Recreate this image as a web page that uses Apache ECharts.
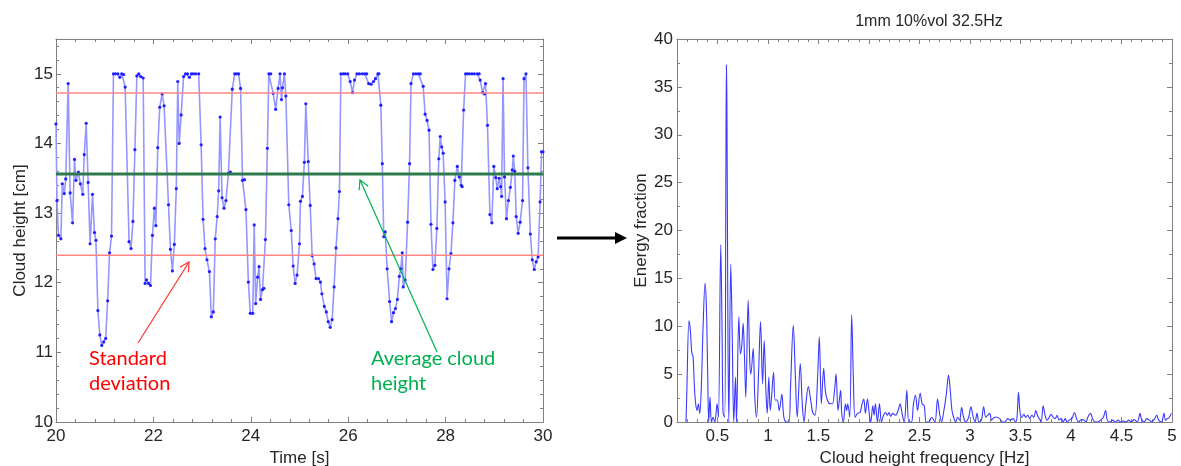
<!DOCTYPE html>
<html>
<head>
<meta charset="utf-8">
<script src="https://cdn.jsdelivr.net/npm/echarts@6/dist/echarts.min.js"></script>
<style>
  html, body { margin: 0; padding: 0; background: #ffffff; }
  #chart { width: 1181px; height: 466px; }
</style>
</head>
<body>
<div id="chart"></div>
<script>
// Cloud height time trace (s, cm)
const timeSec = [
  20.00,20.02,20.05,20.10,20.13,20.17,20.20,20.25,20.29,20.34,
  20.38,20.41,20.46,20.50,20.55,20.58,20.62,20.66,20.70,20.75,
  20.79,20.82,20.86,20.90,20.94,20.98,21.02,21.06,21.10,21.14,
  21.18,21.22,21.27,21.31,21.35,21.39,21.42,21.50,21.54,21.58,
  21.62,21.66,21.70,21.74,21.79,21.83,21.86,21.90,21.94,21.98,
  22.02,22.05,22.09,22.13,22.18,22.22,22.31,22.35,22.39,22.43,
  22.47,22.50,22.53,22.57,22.62,22.66,22.70,22.74,22.78,22.82,
  22.87,22.93,22.98,23.02,23.06,23.10,23.15,23.19,23.23,23.27,
  23.31,23.34,23.37,23.41,23.45,23.49,23.54,23.58,23.62,23.67,
  23.71,23.75,23.79,23.83,23.87,23.90,23.95,23.99,24.04,24.07,
  24.10,24.14,24.17,24.20,24.24,24.27,24.30,24.34,24.37,24.41,
  24.46,24.51,24.56,24.60,24.63,24.65,24.69,24.72,24.78,24.83,
  24.87,24.91,24.95,25.00,25.02,25.06,25.10,25.13,25.18,25.22,
  25.26,25.30,25.34,25.39,25.43,25.46,25.51,25.55,25.59,25.63,
  25.67,25.71,25.75,25.79,25.82,25.85,25.90,25.94,25.99,26.04,
  26.09,26.13,26.18,26.23,26.29,26.34,26.38,26.42,26.47,26.52,
  26.56,26.61,26.63,26.67,26.70,26.73,26.76,26.80,26.85,26.89,
  26.93,26.97,27.01,27.05,27.08,27.11,27.13,27.17,27.22,27.26,
  27.29,27.34,27.39,27.44,27.48,27.54,27.58,27.62,27.66,27.70,
  27.74,27.78,27.82,27.86,27.89,27.92,27.95,27.99,28.03,28.07,
  28.11,28.15,28.19,28.24,28.28,28.32,28.34,28.37,28.41,28.45,
  28.49,28.54,28.59,28.65,28.69,28.71,28.76,28.80,28.82,28.86,
  28.91,28.95,28.99,29.03,29.06,29.10,29.13,29.15,29.18,29.21,
  29.25,29.29,29.33,29.37,29.39,29.42,29.45,29.49,29.53,29.58,
  29.61,29.65,29.69,29.74,29.78,29.82,29.86,29.90,29.94,29.97,
  30.00
];
const cloudHeight = [
  14.28,13.18,12.68,12.63,13.42,13.28,13.49,14.86,13.29,12.86,
  13.77,13.47,13.59,13.42,13.27,13.84,14.29,13.44,12.56,13.27,
  12.72,12.61,11.60,11.25,11.10,11.15,11.20,11.74,12.43,12.67,
  15.00,15.00,15.00,14.95,15.00,14.99,14.81,12.59,12.49,12.88,
  13.91,14.97,15.00,14.96,14.94,11.99,12.04,11.99,11.96,12.68,
  13.07,12.82,13.94,14.52,14.71,14.54,13.12,12.48,12.17,12.55,
  13.35,14.89,14.00,14.41,14.96,15.00,15.00,14.95,15.00,15.00,
  15.00,15.00,13.98,12.91,12.49,12.33,12.16,11.51,11.58,12.63,
  12.95,13.32,14.38,13.22,13.07,13.18,13.57,13.59,14.78,15.00,
  15.00,15.00,14.79,13.47,13.48,13.05,12.01,11.56,11.56,12.83,
  11.70,12.08,12.23,11.76,11.90,11.92,12.62,13.93,15.00,15.00,
  14.72,14.49,14.79,15.00,14.63,14.80,15.00,14.68,13.12,12.75,
  12.24,11.99,12.11,12.56,13.17,13.24,13.73,14.57,13.74,13.11,
  12.39,12.27,12.06,12.06,12.01,11.84,11.66,11.58,11.44,11.36,
  11.47,11.94,12.50,12.92,13.31,15.00,15.00,15.00,15.00,14.89,
  14.73,14.91,15.00,15.00,15.00,15.00,15.00,14.86,14.85,14.89,
  14.93,15.00,15.00,14.55,13.71,12.66,12.73,12.20,11.73,11.44,
  11.57,11.63,11.76,12.09,12.20,12.43,11.94,12.04,12.87,13.71,
  14.86,15.00,15.00,15.00,15.00,14.82,14.42,14.33,14.19,12.84,
  12.19,12.25,12.78,13.78,14.10,13.95,13.86,13.16,11.77,12.20,
  12.42,12.86,13.47,13.67,13.52,13.40,13.38,14.48,15.00,15.00,
  15.00,15.00,15.00,15.00,15.00,14.91,14.73,14.71,14.86,14.26,
  12.98,12.86,13.67,13.51,13.35,13.50,13.38,13.24,14.93,13.52,
  12.92,13.18,13.37,13.62,13.82,13.60,12.95,12.71,12.87,13.18,
  14.93,15.00,13.65,12.70,12.33,12.19,12.30,12.37,13.16,13.88,
  13.88
];
const meanHeight = 13.56;
const stdHeight = 1.165;

// Energy spectrum of the cloud height (Hz, %)
const freqHz = [
  0.189,0.196,0.219,0.232,0.246,0.259,0.272,0.285,0.298,0.312,
  0.325,0.341,0.358,0.378,0.391,0.404,0.414,0.427,0.441,0.457,
  0.474,0.497,0.510,0.533,0.546,0.556,0.572,0.584,0.589,0.594,
  0.603,0.613,0.632,0.646,0.662,0.679,0.689,0.712,0.728,0.742,
  0.755,0.768,0.781,0.804,0.821,0.831,0.854,0.870,0.887,0.907,
  0.927,0.947,0.963,0.980,0.993,1.009,1.023,1.036,1.056,1.072,
  1.092,1.112,1.138,1.158,1.185,1.208,1.224,1.251,1.271,1.290,
  1.320,1.340,1.357,1.376,1.400,1.419,1.443,1.466,1.492,1.509,
  1.529,1.552,1.568,1.588,1.615,1.638,1.661,1.674,1.694,1.707,
  1.720,1.730,1.747,1.767,1.780,1.790,1.810,1.829,1.846,1.863,
  1.886,1.912,1.932,1.949,1.965,1.985,2.005,2.018,2.038,2.051,
  2.064,2.084,2.104,2.124,2.144,2.163,2.183,2.197,2.216,2.236,
  2.263,2.289,2.309,2.326,2.349,2.375,2.395,2.421,2.441,2.461,
  2.481,2.507,2.527,2.547,2.567,2.593,2.620,2.653,2.679,2.699,
  2.719,2.739,2.765,2.788,2.805,2.822,2.838,2.858,2.878,2.898,
  2.917,2.937,2.957,2.987,3.010,3.030,3.050,3.070,3.089,3.113,
  3.136,3.156,3.175,3.195,3.215,3.242,3.268,3.295,3.321,3.347,
  3.374,3.400,3.427,3.450,3.466,3.480,3.496,3.513,3.533,3.552,
  3.572,3.592,3.612,3.632,3.652,3.668,3.685,3.705,3.724,3.744,
  3.764,3.784,3.804,3.823,3.843,3.863,3.883,3.903,3.923,3.943,
  3.962,3.982,4.009,4.035,4.055,4.075,4.095,4.121,4.148,4.167,
  4.194,4.214,4.240,4.267,4.293,4.320,4.343,4.359,4.386,4.412,
  4.439,4.465,4.491,4.518,4.544,4.571,4.597,4.624,4.657,4.683,
  4.697,4.723,4.749,4.776,4.802,4.829,4.849,4.868,4.895,4.921,
  4.935,4.954,4.974,4.994
];
const energyFrac = [
  0,2.6,10.6,9.6,7.3,6.8,3.7,1.9,1.2,1.9,
  0.9,3.7,9.9,14.5,12.0,5.0,0,2.6,0,0.5,
  0,1.9,0.5,18.5,9.6,1.0,0.5,26.0,37.3,33.5,
  12.0,0,16.5,9.6,0,4.7,0,11.0,7.1,8.1,
  10.3,6.8,2.6,12.7,6.1,5.0,7.7,2.6,0.5,5.0,
  10.5,4.0,8.5,3.3,0.9,4.7,1.2,2.6,5.2,2.3,
  2.3,1.2,2.9,0.5,0,0,3.7,10.1,5.0,0.5,
  6.1,1.9,0,1.9,3.7,2.6,1.0,0.7,4.7,8.9,
  1.9,5.6,3.3,2.3,1.9,1.9,3.5,5.0,1.2,2.3,
  3.3,1.0,0,1.9,1.2,1.9,0.5,11.2,4.5,0.5,
  0.9,1.0,1.9,2.4,0.9,2.4,0.7,0,1.7,0.7,
  1.9,0,1.9,0,0.7,1.0,0.7,1.0,0.6,0.9,
  0.7,1.2,1.9,1.0,0,3.3,0,0,1.9,2.8,
  1.2,3.0,1.9,1.7,0,0,0.5,0,2.4,0.9,
  0,1.0,2.8,4.9,3.3,1.2,0.5,0,0.5,0.2,
  1.5,0.5,0,0.5,1.6,0.6,0,0.9,0,0.2,
  1.6,0.5,0.7,0.9,0.2,0.5,0.5,0.35,0,0,
  0.35,0.2,0.35,0,0.5,3.1,1.0,0.5,0.8,0.5,
  0.7,0.35,0.7,0.5,1.2,0.7,0.35,0,1.7,0.7,
  0.2,0.5,0.8,0.5,0.35,0.7,0.2,0.35,0,0.35,
  0,0.2,0.35,1.0,0.35,0,0.2,0.25,0,0.5,
  0.9,0.35,0,0,0.2,0.5,1.2,0.2,0,0.2,
  0,0.2,0,0.1,0,0.2,0,0.25,0,0.9,
  0.35,0,0.35,0.2,0,0.35,0.7,0.2,0,0.9,
  0.2,0.35,0.5,0.9
];

// Tick positions
const timeTicks = [20, 22, 24, 26, 28, 30];
const heightTicks = [10, 11, 12, 13, 14, 15];
const freqTicks = [0.5, 1, 1.5, 2, 2.5, 3, 3.5, 4, 4.5, 5];
const energyTicks = [0, 5, 10, 15, 20, 25, 30, 35, 40];

const GRAY = '#808080';
const INK = '#262626';
const SANS = '"Liberation Sans", Arial, sans-serif';

// Boxed axes: major ticks (with labels on the primary side) plus a
// tick-only minor axis on each side of the plot.
function boxAxes(o) {
  const common = {
    gridIndex: o.grid, type: 'value', min: o.min, max: o.max,
    splitLine: { show: false }, splitArea: { show: false }, minorTick: { show: false }
  };
  const major = (position, withLabels) => Object.assign({}, common, {
    position,
    axisLine: { show: true, onZero: false, lineStyle: { color: GRAY, width: 1 } },
    axisTick: { show: true, inside: true, length: 5, customValues: o.ticks, lineStyle: { color: GRAY } },
    axisLabel: withLabels
      ? { show: true, customValues: o.ticks, margin: o.labelMargin, color: INK, fontSize: 17, fontFamily: SANS }
      : { show: false }
  }, withLabels ? {
    name: o.name, nameLocation: 'middle', nameGap: o.nameGap, nameRotate: o.nameRotate,
    nameTextStyle: { color: INK, fontSize: 17, fontFamily: SANS }
  } : {});
  const minor = (position) => Object.assign({}, common, {
    position, interval: o.minorStep,
    axisLine: { show: false, onZero: false },
    axisTick: { show: true, inside: true, length: 3, lineStyle: { color: GRAY } },
    axisLabel: { show: false }
  });
  return [major(o.sides[0], true), minor(o.sides[0]), major(o.sides[1], false), minor(o.sides[1])];
}

const xAxes = [].concat(
  boxAxes({ grid: 0, sides: ['bottom', 'top'], min: 20, max: 30, ticks: timeTicks, minorStep: 0.4,
            labelMargin: 6, name: 'Time [s]', nameGap: 21, nameRotate: 0 }),
  boxAxes({ grid: 1, sides: ['bottom', 'top'], min: 0.1, max: 5, ticks: freqTicks, minorStep: 0.1,
            labelMargin: 6, name: 'Cloud height frequency [Hz]', nameGap: 22, nameRotate: 0 })
);
const yAxes = [].concat(
  boxAxes({ grid: 0, sides: ['left', 'right'], min: 10, max: 15.5, ticks: heightTicks, minorStep: 0.2,
            labelMargin: 3, name: 'Cloud height [cm]', nameGap: 27, nameRotate: 90 }),
  boxAxes({ grid: 1, sides: ['left', 'right'], min: 0, max: 40, ticks: energyTicks, minorStep: 2.5,
            labelMargin: 4, name: 'Energy fraction', nameGap: 23, nameRotate: 90 })
);

const heightPoints = timeSec.map((t, i) => [t, cloudHeight[i]]);
const spectrumPoints = freqHz.map((f, i) => [f, energyFrac[i]]);
const levelLine = (v) => [[timeTicks[0], v], [timeTicks[timeTicks.length - 1], v]];

// Annotation arrows: straight shaft with open or filled head
function arrow(tail, head, color, width, headLen, headHalf, filled) {
  const dx = head[0] - tail[0], dy = head[1] - tail[1];
  const len = Math.hypot(dx, dy);
  const ux = dx / len, uy = dy / len, px = -uy, py = ux;
  const base = [head[0] - headLen * ux, head[1] - headLen * uy];
  const a1 = [base[0] + headHalf * px, base[1] + headHalf * py];
  const a2 = [base[0] - headHalf * px, base[1] - headHalf * py];
  const end = filled ? base : head;
  return [
    { type: 'line', z: 100, shape: { x1: tail[0], y1: tail[1], x2: end[0], y2: end[1] },
      style: { stroke: color, lineWidth: width } },
    filled
      ? { type: 'polygon', z: 100, shape: { points: [head, a1, a2] }, style: { fill: color } }
      : { type: 'polyline', z: 100, shape: { points: [a1, head, a2] }, style: { stroke: color, lineWidth: width, fill: null } }
  ];
}

const noteFont = { fontFamily: 'Lato, "Open Sans", sans-serif', fontSize: 20, lineHeight: 25 };

const option = {
  animation: false,
  backgroundColor: '#ffffff',
  title: {
    text: '1mm 10%vol 32.5Hz', left: 924, top: 9, textAlign: 'center',
    textStyle: { color: INK, fontSize: 16, fontWeight: 'normal', fontFamily: SANS }
  },
  grid: [
    { left: 56, top: 39, width: 487, height: 383, outerBoundsMode: 'none', containLabel: false },
    { left: 677, top: 39, width: 495, height: 383, outerBoundsMode: 'none', containLabel: false }
  ],
  xAxis: xAxes,
  yAxis: yAxes,
  series: [
    {
      type: 'line', xAxisIndex: 0, yAxisIndex: 0, data: heightPoints, z: 2,
      symbol: 'circle', symbolSize: 3.2, showSymbol: true,
      lineStyle: { color: '#9696ff', width: 1.6 },
      itemStyle: { color: '#2020ff', borderWidth: 0 },
      emphasis: { disabled: true }, silent: true
    },
    {
      type: 'line', xAxisIndex: 0, yAxisIndex: 0, data: levelLine(meanHeight + stdHeight), z: 3,
      symbol: 'none', lineStyle: { color: '#ff8585', width: 1.5 }, silent: true
    },
    {
      type: 'line', xAxisIndex: 0, yAxisIndex: 0, data: levelLine(meanHeight - stdHeight), z: 3,
      symbol: 'none', lineStyle: { color: '#ff8585', width: 1.5 }, silent: true
    },
    {
      type: 'line', xAxisIndex: 0, yAxisIndex: 0, data: levelLine(meanHeight), z: 4,
      symbol: 'none', lineStyle: { color: '#2e7a4c', width: 3 }, silent: true
    },
    {
      type: 'line', xAxisIndex: 4, yAxisIndex: 4, data: spectrumPoints, z: 2,
      symbol: 'none', smooth: 0.35, lineStyle: { color: '#3a3aff', width: 1.1 }, silent: true
    }
  ],
  graphic: [].concat(
    [
      { type: 'text', x: 89, y: 346, z: 100,
        style: Object.assign({ text: 'Standard\ndeviation', fill: '#ff0000', verticalAlign: 'top' }, noteFont) },
      { type: 'text', x: 371, y: 346, z: 100,
        style: Object.assign({ text: 'Average cloud\nheight', fill: '#00b050', verticalAlign: 'top' }, noteFont) }
    ],
    arrow([138, 343], [189, 262], '#ff3030', 1.2, 9, 5, false),
    arrow([437, 352], [360, 180], '#00b050', 1.2, 9, 5, false),
    arrow([557, 238], [627, 238], '#000000', 3, 12, 6, true)
  )
};

const chart = echarts.init(document.getElementById('chart'), null, { renderer: 'canvas' });
chart.setOption(option);
</script>
</body>
</html>
